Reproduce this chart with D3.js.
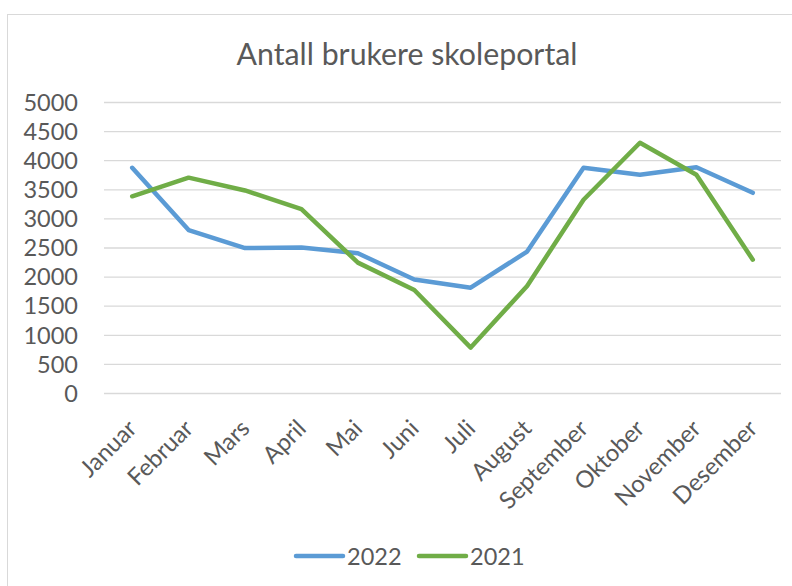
<!DOCTYPE html>
<html>
<head>
<meta charset="utf-8">
<script src="https://cdn.jsdelivr.net/npm/d3@7"></script>
<style>
  body { margin: 0; background: #fff; }
  text { font-family: Lato, "Open Sans", sans-serif; fill: #595959; }
</style>
</head>
<body>
<script>
var w = 792;
var h = 586;

var months = ["Januar", "Februar", "Mars", "April", "Mai", "Juni", "Juli",
              "August", "September", "Oktober", "November", "Desember"];
var v2022 = [3870, 2800, 2490, 2500, 2400, 1950, 1810, 2430, 3870, 3750, 3880, 3440];
var v2021 = [3380, 3700, 3480, 3160, 2240, 1770, 780, 1840, 3320, 4300, 3750, 2290];
var yTicks = [0, 500, 1000, 1500, 2000, 2500, 3000, 3500, 4000, 4500, 5000];
var seriesNames = ["2022", "2021"];
var colors = ["#5b9bd5", "#70ad47"];

var svg = d3.select("body").append("svg").attr("width", w).attr("height", h);

// chart frame, runs past the right and bottom edges like the screenshot
svg.append("rect").attr("x", 7.5).attr("y", 14.5).attr("width", 810).attr("height", 600)
    .attr("fill", "none").attr("stroke", "#d9d9d9").attr("stroke-width", 1);

// scales
var xS = d3.scaleBand().domain(months).range([104, 781]);
var yS = d3.scaleLinear().domain([0, 5000]).range([393, 102]);

svg.append("text").attr("x", 407).attr("y", 65)
    .attr("text-anchor", "middle").attr("font-size", "30.3px")
    .text("Antall brukere skoleportal");

// gridlines + y labels
var yA = d3.axisLeft(yS).tickValues(yTicks).tickSize(-(781 - 104)).tickPadding(26).tickFormat(d3.format("d"));
var gy = svg.append("g").attr("transform", "translate(104,0)").call(yA);
gy.select(".domain").remove();
gy.selectAll("line").attr("stroke", "#d9d9d9").attr("stroke-width", 1.3);
gy.selectAll("text").attr("font-size", "23.5px").attr("fill", "#595959")
    .attr("font-family", "Lato, 'Open Sans', sans-serif").attr("dy", "0.35em");

// x labels, rotated
svg.append("g").selectAll("text").data(months).enter().append("text")
    .attr("transform", function(d) {
        return "translate(" + (xS(d) + xS.bandwidth() / 2 + 6) + ",430) rotate(-45)";
    })
    .attr("text-anchor", "end")
    .attr("font-size", "23.8px")
    .text(function(d) { return d; });

// lines
var line = d3.line()
    .x(function(d, i) { return xS(months[i]) + xS.bandwidth() / 2; })
    .y(function(d) { return yS(d); });

[v2022, v2021].forEach(function(vals, k) {
    svg.append("path").datum(vals)
        .attr("d", line)
        .attr("fill", "none")
        .attr("stroke", colors[k])
        .attr("stroke-width", 4.5)
        .attr("stroke-linejoin", "round")
        .attr("stroke-linecap", "round");
});

// legend
var legX = [296, 419];
seriesNames.forEach(function(name, k) {
    svg.append("line").attr("x1", legX[k]).attr("x2", legX[k] + 47)
        .attr("y1", 556).attr("y2", 556)
        .attr("stroke", colors[k]).attr("stroke-width", 4.5).attr("stroke-linecap", "round");
    svg.append("text").attr("x", legX[k] + 51).attr("y", 565)
        .attr("font-size", "23.5px").text(name);
});
</script>
</body>
</html>
